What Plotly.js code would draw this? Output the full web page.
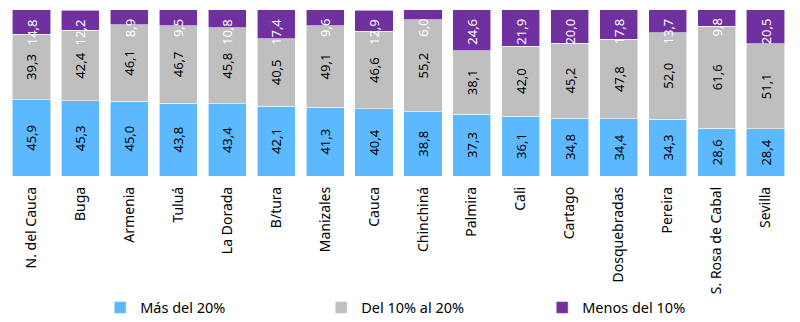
<!DOCTYPE html>
<html>
<head>
<meta charset="utf-8">
<script src="https://cdn.plot.ly/plotly-3.0.1.min.js"></script>
<style>html,body{margin:0;padding:0;background:#fff;}#chart{width:800px;height:322px;}</style>
</head>
<body>
<div id="chart"></div>
<script>
const categories = ["N. del Cauca","Buga","Armenia","Tuluá","La Dorada","B/tura","Manizales","Cauca","Chinchiná","Palmira","Cali","Cartago","Dosquebradas","Pereira","S. Rosa de Cabal","Sevilla"];
const masDel20 = [45.9,45.3,45.0,43.8,43.4,42.1,41.3,40.4,38.8,37.3,36.1,34.8,34.4,34.3,28.6,28.4];
const del10al20 = [39.3,42.4,46.1,46.7,45.8,40.5,49.1,46.6,55.2,38.1,42.0,45.2,47.8,52.0,61.6,51.1];
const menosDel10 = [14.8,12.2,8.9,9.5,10.8,17.4,9.6,12.9,6.0,24.6,21.9,20.0,17.8,13.7,9.8,20.5];
const seriesNames = ["Más del 20%","Del 10% al 20%","Menos del 10%"];
const colors = ["#5CB9FF","#BFBFBF","#7030A0"];

const fmt = v => v.toFixed(1).replace(".", ",");
const FONT = "Noto Sans, sans-serif";

function barTrace(vals, i, showText) {
  return {
    type: "bar",
    name: seriesNames[i],
    x: categories,
    y: vals,
    marker: {color: colors[i], line: {color: "rgba(255,255,255,0.7)", width: 0.8}},
    text: showText ? vals.map(fmt) : vals.map(() => ""),
    textposition: showText ? "inside" : "none",
    insidetextanchor: "middle",
    textangle: -90,
    textfont: {family: FONT, size: 13, color: "#000"},
    hoverinfo: "none"
  };
}

const data = [
  barTrace(masDel20, 0, true),
  barTrace(del10al20, 1, true),
  barTrace(menosDel10, 2, false)
];

const totals = categories.map((c, k) => masDel20[k] + del10al20[k] + menosDel10[k]);
const annotations = categories.map((c, k) => ({
  x: c, y: totals[k], xref: "x", yref: "y",
  text: fmt(menosDel10[k]),
  showarrow: false,
  textangle: -90,
  yanchor: "top",
  xanchor: "center",
  yshift: -7,
  font: {family: FONT, size: 13, color: "#fff"}
}));

const layout = {
  width: 800, height: 322,
  barmode: "stack",
  bargap: 0.22,
  margin: {l: 7, r: 10, t: 9, b: 146, autoexpand: false},
  paper_bgcolor: "#fff", plot_bgcolor: "#fff",
  showlegend: true,
  legend: {
    orientation: "h", x: 0.119, xanchor: "left",
    yref: "container", y: 0.045, yanchor: "middle",
    bgcolor: "rgba(0,0,0,0)",
    font: {family: FONT, size: 14.5, color: "#000"},
    entrywidth: 176, entrywidthmode: "pixels", traceorder: "normal"
  },
  xaxis: {
    tickangle: -90, tickfont: {family: FONT, size: 14, color: "#000"},
    showline: false, showgrid: false, ticks: "", zeroline: false,
    ticklabelstandoff: 7, automargin: false
  },
  yaxis: {range: [0, 100.5], visible: false, showgrid: false, zeroline: false},
  annotations: annotations,
  uniformtext: {mode: "show", minsize: 13}
};

Plotly.newPlot("chart", data, layout, {staticPlot: true, displayModeBar: false});
</script>
</body>
</html>
